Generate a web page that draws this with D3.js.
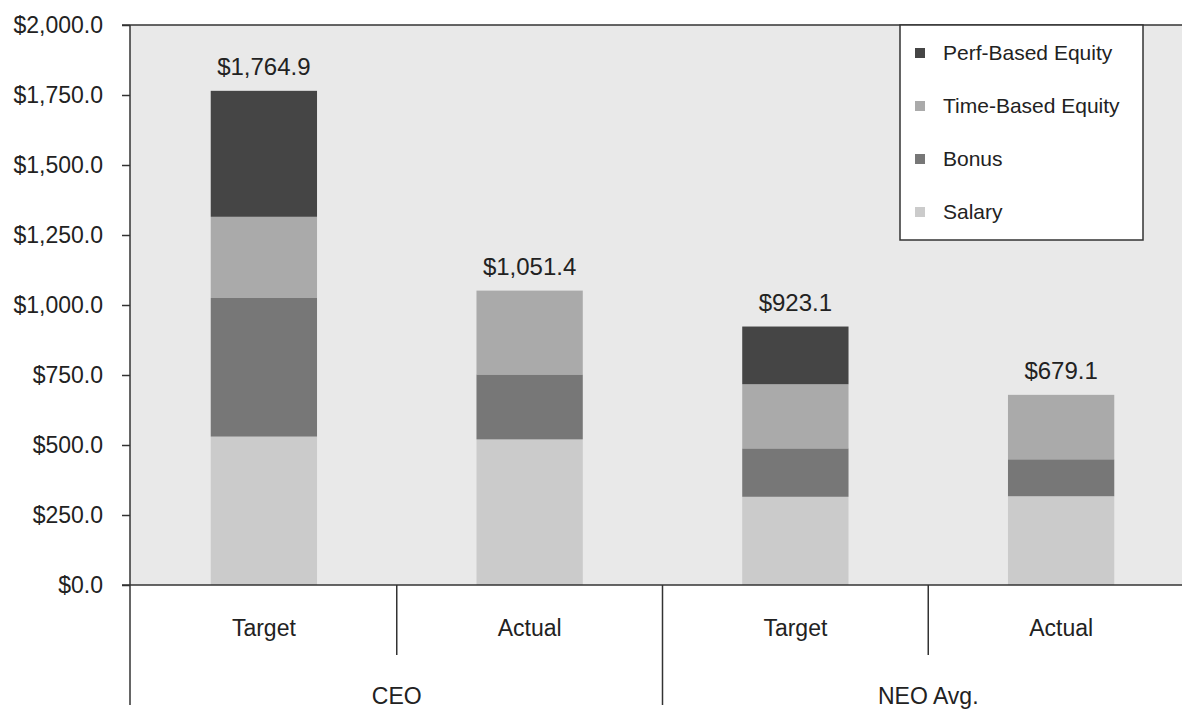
<!DOCTYPE html>
<html>
<head>
<meta charset="utf-8">
<script src="https://cdn.jsdelivr.net/npm/d3@7"></script>
<style>
  html, body { margin: 0; padding: 0; background: #fff; }
  svg { display: block; font-family: "Liberation Sans", Arial, sans-serif; }
</style>
</head>
<body>
<div id="viz"></div>
<script>
// data ($ thousands)
const groups = ["CEO", "NEO Avg."];
const categories = ["Target", "Actual", "Target", "Actual"];
const barGroup = ["CEO", "CEO", "NEO Avg.", "NEO Avg."];
const seriesNames = ["Salary", "Bonus", "Time-Based Equity", "Perf-Based Equity"];
const salary = [530, 520, 315, 317];
const bonus = [495, 232, 173, 132];
const timeEquity = [290, 299.4, 229, 230.1];
const perfEquity = [449.9, 0, 206.1, 0];
const yTicks = [0, 250, 500, 750, 1000, 1250, 1500, 1750, 2000];

const colors = {
    "Salary": "#cbcbcb",
    "Bonus": "#777777",
    "Time-Based Equity": "#aaaaaa",
    "Perf-Based Equity": "#454545"
};

const W = 1182, H = 709;
const plotLeft = 130, plotTop = 25, plotBottom = 585;

const svg = d3.select("#viz").append("svg")
    .attr("width", W)
    .attr("height", H);

// rows for the stack
const rows = categories.map((c, i) => ({
    key: barGroup[i] + "|" + c + "|" + i,
    cat: c,
    group: barGroup[i],
    "Salary": salary[i],
    "Bonus": bonus[i],
    "Time-Based Equity": timeEquity[i],
    "Perf-Based Equity": perfEquity[i]
}));
rows.forEach(r => r.total = seriesNames.reduce((s, k) => s + r[k], 0));

const x = d3.scaleBand()
    .domain(rows.map(r => r.key))
    .range([131, 1194])
    .paddingInner(0.6)
    .paddingOuter(0.3);

const y = d3.scaleLinear()
    .domain([0, 2000])
    .range([plotBottom, plotTop]);

// plot background
svg.append("rect")
    .attr("x", plotLeft)
    .attr("y", plotTop)
    .attr("width", W - plotLeft)
    .attr("height", plotBottom - plotTop)
    .attr("fill", "#e9e9e9");

// stacked bars
const stacked = d3.stack().keys(seriesNames)(rows);
svg.append("g")
    .selectAll("g")
    .data(stacked)
    .join("g")
    .attr("fill", d => colors[d.key])
    .selectAll("rect")
    .data(d => d)
    .join("rect")
    .attr("x", d => x(d.data.key))
    .attr("width", x.bandwidth())
    .attr("y", d => y(d[1]))
    .attr("height", d => y(d[0]) - y(d[1]));

// totals above bars
svg.append("g")
    .selectAll("text")
    .data(rows)
    .join("text")
    .attr("x", d => x(d.key) + x.bandwidth() / 2)
    .attr("y", d => y(d.total) - 16)
    .attr("text-anchor", "middle")
    .attr("font-size", 24)
    .attr("fill", "#222")
    .text(d => "$" + d3.format(",.1f")(d.total));

// y axis
const yAxis = svg.append("g")
    .attr("transform", `translate(${plotLeft},0)`)
    .call(d3.axisLeft(y)
        .tickValues(yTicks)
        .tickSize(8)
        .tickPadding(19)
        .tickFormat(d => "$" + d3.format(",.1f")(d)));
yAxis.select(".domain").remove();
yAxis.selectAll("line").attr("stroke", "#333").attr("stroke-width", 1.5);
yAxis.selectAll("text")
    .attr("font-size", 23)
    .attr("font-family", "Liberation Sans, Arial, sans-serif")
    .attr("fill", "#222");

// frame lines
const lineColor = "#333";
svg.append("line")
    .attr("x1", plotLeft).attr("x2", plotLeft)
    .attr("y1", plotTop).attr("y2", 705)
    .attr("stroke", lineColor).attr("stroke-width", 1.5);
svg.append("line")
    .attr("x1", plotLeft - 8).attr("x2", W)
    .attr("y1", plotTop).attr("y2", plotTop)
    .attr("stroke", lineColor).attr("stroke-width", 1.5);
svg.append("line")
    .attr("x1", plotLeft - 8).attr("x2", W)
    .attr("y1", plotBottom).attr("y2", plotBottom)
    .attr("stroke", lineColor).attr("stroke-width", 1.5);

// dividers between bars (short) and between groups (long)
const step = x.step();
rows.slice(1).forEach((r, i) => {
    const xPos = x(r.key) - step * x.paddingInner() / 2;
    const isGroupEdge = r.group !== rows[i].group;
    svg.append("line")
        .attr("x1", xPos).attr("x2", xPos)
        .attr("y1", plotBottom)
        .attr("y2", isGroupEdge ? 705 : 655)
        .attr("stroke", lineColor)
        .attr("stroke-width", 1.5);
});

// category labels
svg.append("g")
    .selectAll("text")
    .data(rows)
    .join("text")
    .attr("x", d => x(d.key) + x.bandwidth() / 2)
    .attr("y", 636)
    .attr("text-anchor", "middle")
    .attr("font-size", 23)
    .attr("fill", "#222")
    .text(d => d.cat);

// group labels
svg.append("g")
    .selectAll("text")
    .data(groups)
    .join("text")
    .attr("x", g => {
        const keys = rows.filter(r => r.group === g);
        const a = x(keys[0].key), b = x(keys[keys.length - 1].key) + x.bandwidth();
        return (a + b) / 2;
    })
    .attr("y", 704)
    .attr("text-anchor", "middle")
    .attr("font-size", 23)
    .attr("fill", "#222")
    .text(g => g);

// legend
const legend = svg.append("g");
legend.append("rect")
    .attr("x", 900).attr("y", plotTop)
    .attr("width", 243).attr("height", 215)
    .attr("fill", "#fff")
    .attr("stroke", lineColor)
    .attr("stroke-width", 1.5);

const legendItems = seriesNames.slice().reverse();
const ly = d3.scalePoint().domain(legendItems).range([53, 212]);
const li = legend.selectAll("g.item")
    .data(legendItems)
    .join("g")
    .attr("class", "item")
    .attr("transform", d => `translate(915,${ly(d)})`);
li.append("rect")
    .attr("x", 0).attr("y", -5)
    .attr("width", 10).attr("height", 10)
    .attr("fill", d => colors[d]);
li.append("text")
    .attr("x", 28)
    .attr("dy", "0.35em")
    .attr("font-size", 21)
    .attr("fill", "#222")
    .text(d => d);
</script>
</body>
</html>
